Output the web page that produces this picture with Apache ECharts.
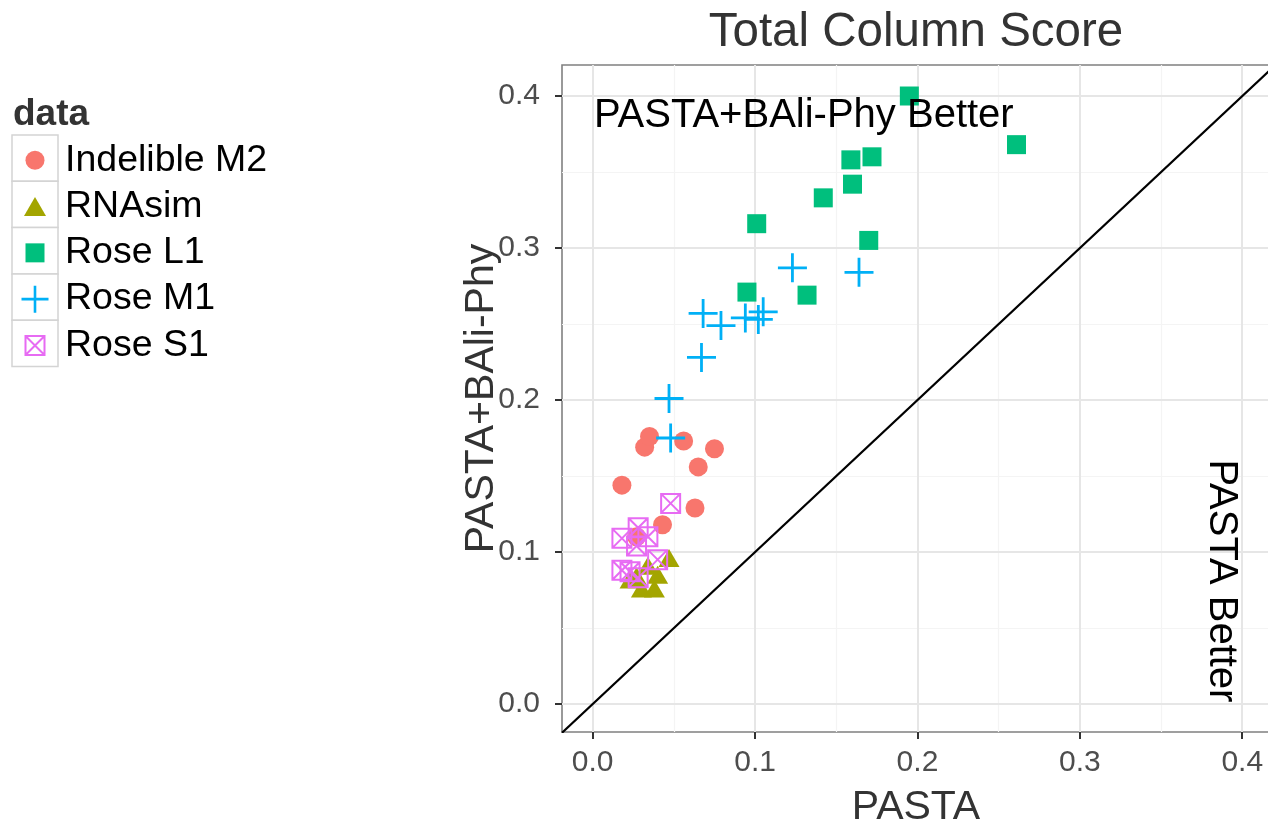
<!DOCTYPE html>
<html>
<head>
<meta charset="utf-8">
<title>Total Column Score</title>
<script src="https://cdn.jsdelivr.net/npm/echarts@6.0.0/dist/echarts.min.js"></script>
<style>
  html, body { margin: 0; padding: 0; background: #ffffff; }
  #chart { width: 1268px; height: 828px; }
</style>
</head>
<body>
<div id="chart"></div>
<script>
// Scores per dataset: [PASTA, PASTA+BAli-Phy]
const indelibleM2 = [
  [0.032, 0.169], [0.035, 0.176], [0.056, 0.173], [0.075, 0.168], [0.065, 0.156],
  [0.018, 0.144], [0.063, 0.129], [0.043, 0.118], [0.027, 0.110]
];
const rnaSim = [
  [0.047, 0.096], [0.040, 0.085], [0.038, 0.076], [0.030, 0.076], [0.027, 0.084],
  [0.034, 0.091], [0.023, 0.082]
];
const roseL1 = [
  [0.195, 0.400], [0.261, 0.368], [0.159, 0.358], [0.172, 0.360], [0.160, 0.342],
  [0.142, 0.333], [0.101, 0.316], [0.170, 0.305], [0.095, 0.271], [0.132, 0.269]
];
const roseM1 = [
  [0.123, 0.287], [0.164, 0.284], [0.068, 0.257], [0.079, 0.249], [0.094, 0.254],
  [0.105, 0.258], [0.102, 0.253], [0.067, 0.228], [0.047, 0.201], [0.048, 0.175]
];
const roseS1 = [
  [0.048, 0.132], [0.028, 0.116], [0.018, 0.109], [0.034, 0.110], [0.027, 0.104],
  [0.040, 0.095], [0.018, 0.088], [0.028, 0.083], [0.023, 0.087]
];

const seriesNames = ['Indelible M2', 'RNAsim', 'Rose L1', 'Rose M1', 'Rose S1'];
const seriesColors = ['#F8766D', '#A3A500', '#00BF7D', '#00B0F6', '#E76BF3'];

const majorTicks = [0, 0.1, 0.2, 0.3, 0.4];
const minorTicks = [0.05, 0.15, 0.25, 0.35];

// Visible ranges of both axes
const X_MIN = -0.0189, X_MAX = 0.4171;
const Y_MIN = -0.0184, Y_MAX = 0.4204;

const FONT = '"Liberation Sans", Arial, Helvetica, sans-serif';

// Symbol shapes (ggplot-style point shapes)
const PATH_CIRCLE = 'path://M10,0A10,10,0,1,1,10,20A10,10,0,1,1,10,0Z';
const PATH_TRIANGLE = 'path://M11,0L22,19L0,19Z';
const PATH_SQUARE = 'path://M0,0H20V20H0Z';
const PATH_PLUS = 'path://M14,0V28M0,14H28';
const PATH_BOXX = 'path://M0,0H20V20H0ZM0,0L20,20M20,0L0,20';

const chart = echarts.init(document.getElementById('chart'), null, { renderer: 'canvas' });

// Background grid lines, drawn through the axes as mark lines
function gridLines() {
  const lines = [];
  minorTicks.forEach(v => {
    lines.push({ xAxis: v, lineStyle: { color: '#f4f4f4', width: 1.2, type: 'solid' } });
    lines.push({ yAxis: v, lineStyle: { color: '#f4f4f4', width: 1.2, type: 'solid' } });
  });
  majorTicks.forEach(v => {
    lines.push({ xAxis: v, lineStyle: { color: '#e6e6e6', width: 2, type: 'solid' } });
    lines.push({ yAxis: v, lineStyle: { color: '#e6e6e6', width: 2, type: 'solid' } });
  });
  return lines;
}

function pointSeries(name, data, symbol, size, style) {
  return {
    type: 'scatter',
    name: name,
    data: data,
    symbol: symbol,
    symbolSize: size,
    itemStyle: Object.assign({ opacity: 1 }, style),
    emphasis: { disabled: true },
    z: 10
  };
}

// Legend key glyphs; w is the drawn width used to centre each glyph in its key box
const legendIcons = [
  { icon: PATH_CIRCLE, h: 19, w: 19, style: { color: seriesColors[0], borderWidth: 0, opacity: 1 } },
  { icon: PATH_TRIANGLE, h: 19, w: 22, style: { color: seriesColors[1], borderWidth: 0, opacity: 1 } },
  { icon: PATH_SQUARE, h: 19, w: 19, style: { color: seriesColors[2], borderWidth: 0, opacity: 1 } },
  { icon: PATH_PLUS, h: 27, w: 29.6, style: { color: 'rgba(0,0,0,0)', borderColor: seriesColors[3], borderWidth: 2.6, opacity: 1 } },
  { icon: PATH_BOXX, h: 19, w: 21, style: { color: 'rgba(0,0,0,0)', borderColor: seriesColors[4], borderWidth: 2, opacity: 1 } }
];

const KEY_LEFT = 12, KEY_TOP = 135, KEY_SIZE = 46, KEY_STEP = 46.3;
const LEGEND_FONT = 37.5;

const legends = seriesNames.map((name, i) => ({
  orient: 'horizontal',
  left: KEY_LEFT + KEY_SIZE / 2 - legendIcons[i].w / 2,
  top: KEY_TOP + KEY_STEP * i + KEY_SIZE / 2 - LEGEND_FONT / 2 + 2,
  padding: 0,
  itemWidth: KEY_SIZE,
  itemHeight: legendIcons[i].h,
  selectedMode: false,
  textStyle: { fontFamily: FONT, fontSize: LEGEND_FONT, lineHeight: LEGEND_FONT, color: '#000000', padding: [0, 0, 0, 2] },
  data: [{ name: name, icon: legendIcons[i].icon, itemStyle: legendIcons[i].style }]
}));

const keyBoxes = seriesNames.map((name, i) => ({
  type: 'rect',
  z: -1,
  shape: { x: KEY_LEFT, y: KEY_TOP + KEY_STEP * i, width: KEY_SIZE, height: KEY_STEP },
  style: { fill: '#ffffff', stroke: '#d4d4d4', lineWidth: 1.5 }
}));

const option = {
  animation: false,
  backgroundColor: '#ffffff',
  grid: {
    left: 562, top: 65, width: 708, height: 667,
    show: true, backgroundColor: '#ffffff', borderColor: '#808080', borderWidth: 1.6,
    containLabel: false, outerBoundsMode: 'none'
  },
  xAxis: {
    type: 'value', min: X_MIN, max: X_MAX,
    name: 'PASTA', nameLocation: 'middle', nameGap: 55,
    nameTextStyle: { fontFamily: FONT, fontSize: 41, color: '#333333' },
    axisLine: { show: false, onZero: false },
    axisTick: { show: true, customValues: majorTicks, length: 7, lineStyle: { color: '#333333', width: 2 } },
    axisLabel: { customValues: majorTicks, formatter: v => v.toFixed(1), fontFamily: FONT, fontSize: 30, color: '#4d4d4d', margin: 16 },
    splitLine: { show: false }
  },
  yAxis: {
    type: 'value', min: Y_MIN, max: Y_MAX,
    name: 'PASTA+BAli-Phy', nameLocation: 'middle', nameGap: 60, nameMoveOverlap: false,
    nameTextStyle: { fontFamily: FONT, fontSize: 41, color: '#333333' },
    axisLine: { show: false, onZero: false },
    axisTick: { show: true, customValues: majorTicks, length: 7, lineStyle: { color: '#333333', width: 2 } },
    axisLabel: { customValues: majorTicks, formatter: v => v.toFixed(1), fontFamily: FONT, fontSize: 30, color: '#4d4d4d', margin: 22 },
    splitLine: { show: false }
  },
  legend: legends,
  graphic: [
    {
      type: 'text', x: 916, y: 33, z: 10,
      style: { text: 'Total Column Score', font: '47.5px ' + FONT, fill: '#333333', align: 'center', verticalAlign: 'middle' }
    },
    {
      type: 'text', x: 13, y: 115, z: 10,
      style: { text: 'data', font: 'bold 37px ' + FONT, fill: '#333333', align: 'left', verticalAlign: 'middle' }
    }
  ].concat(keyBoxes),
  series: [
    {
      type: 'line', name: 'gridlines', data: [], silent: true, z: 1,
      markLine: { silent: true, z: 1, symbol: ['none', 'none'], label: { show: false }, animation: false, data: gridLines() }
    },
    {
      type: 'line', name: 'y = x', silent: true, z: 8, clip: true,
      data: [[X_MIN, X_MIN], [X_MAX, X_MAX]],
      showSymbol: false, lineStyle: { color: '#000000', width: 2.2 }
    },
    pointSeries(seriesNames[0], indelibleM2, 'circle', 19, { color: seriesColors[0] }),
    pointSeries(seriesNames[1], rnaSim, 'triangle', [21, 18], { color: seriesColors[1] }),
    pointSeries(seriesNames[2], roseL1, 'rect', 19, { color: seriesColors[2] }),
    pointSeries(seriesNames[3], roseM1, PATH_PLUS, 29, { color: 'rgba(0,0,0,0)', borderColor: seriesColors[3], borderWidth: 2.8 }),
    pointSeries(seriesNames[4], roseS1, PATH_BOXX, 19, { color: 'rgba(0,0,0,0)', borderColor: seriesColors[4], borderWidth: 2 }),
    {
      type: 'scatter', name: 'annotations', silent: true, symbolSize: 0, z: 12,
      itemStyle: { opacity: 1 },
      data: [
        { value: [0.13, 0.387], label: { formatter: 'PASTA+BAli-Phy Better', rotate: 0 } },
        { value: [0.387, 0.081], label: { formatter: 'PASTA Better', rotate: -90 } }
      ],
      label: { show: true, position: 'inside', align: 'center', verticalAlign: 'middle', fontFamily: FONT, fontSize: 40, color: '#000000', opacity: 1 }
    }
  ]
};

chart.setOption(option);
</script>
</body>
</html>
